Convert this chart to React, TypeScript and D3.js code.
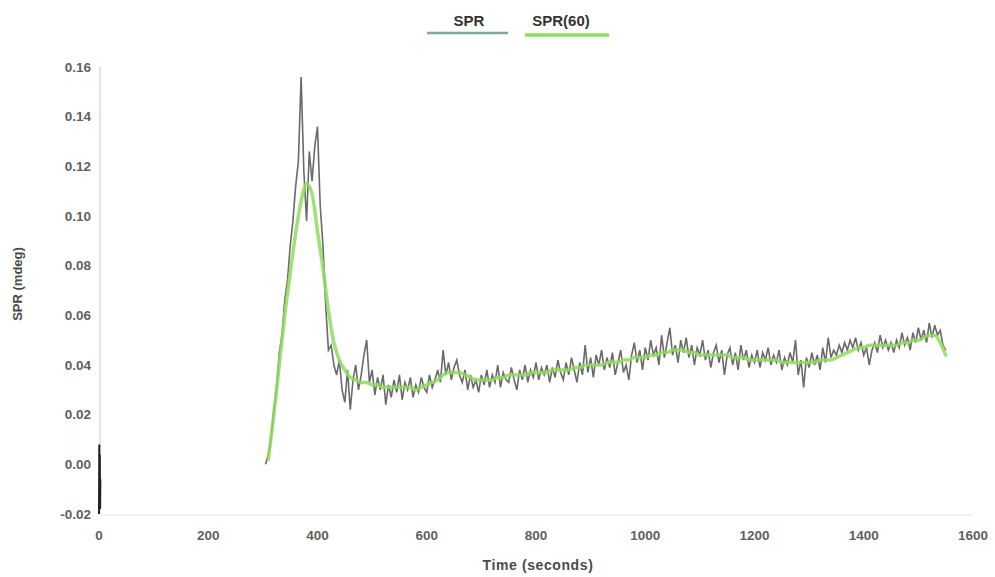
import React from "react";
import * as d3 from "d3";

const yTicks = [-0.02, 0, 0.02, 0.04, 0.06, 0.08, 0.1, 0.12, 0.14, 0.16];
const xTicks = [0, 200, 400, 600, 800, 1000, 1200, 1400, 1600];

// raw SPR: short burst at t=0, then samples every 5 s from 305 s
const rawInitialTimes = [0, 0.5, 1, 1.5, 2, 2.5];
const rawInitialValues = [-0.02, 0.008, -0.014, 0.004, -0.018, -0.006];

const rawStart = 305;
const rawStep = 5;
const rawValues = [
  0.000, 0.004, 0.010, 0.022, 0.030, 0.045, 0.052, 0.066, 0.074, 0.088,
  0.098, 0.112, 0.122, 0.156, 0.118, 0.098, 0.126, 0.114, 0.128, 0.136,
  0.104, 0.088, 0.064, 0.046, 0.048, 0.040, 0.036, 0.042, 0.030, 0.025,
  0.038, 0.022, 0.034, 0.040, 0.030, 0.036, 0.044, 0.050, 0.033, 0.038,
  0.028, 0.035, 0.030, 0.036, 0.024, 0.032, 0.027, 0.034, 0.029, 0.036,
  0.026, 0.033, 0.030, 0.035, 0.027, 0.032, 0.029, 0.035, 0.031, 0.029,
  0.036, 0.031, 0.034, 0.038, 0.033, 0.046, 0.036, 0.041, 0.034, 0.039,
  0.042, 0.036, 0.033, 0.038, 0.030, 0.036, 0.031, 0.034, 0.029, 0.036,
  0.032, 0.038, 0.031, 0.036, 0.033, 0.040, 0.031, 0.037, 0.034, 0.033,
  0.039, 0.034, 0.030, 0.038, 0.034, 0.040, 0.033, 0.038, 0.035, 0.041,
  0.034, 0.039, 0.036, 0.040, 0.033, 0.039, 0.035, 0.042, 0.037, 0.034,
  0.041, 0.036, 0.043, 0.038, 0.033, 0.041, 0.036, 0.048, 0.037, 0.043,
  0.035, 0.044, 0.040, 0.046, 0.038, 0.043, 0.039, 0.045, 0.036, 0.041,
  0.046, 0.037, 0.040, 0.034, 0.044, 0.049, 0.041, 0.046, 0.038, 0.047,
  0.042, 0.050, 0.044, 0.047, 0.040, 0.052, 0.043, 0.049, 0.055, 0.044,
  0.048, 0.041, 0.050, 0.045, 0.051, 0.043, 0.048, 0.040, 0.047, 0.044,
  0.050, 0.042, 0.046, 0.039, 0.045, 0.048, 0.041, 0.046, 0.036, 0.044,
  0.047, 0.040, 0.045, 0.038, 0.048, 0.042, 0.046, 0.039, 0.044, 0.041,
  0.046, 0.039, 0.045, 0.042, 0.047, 0.040, 0.044, 0.041, 0.046, 0.038,
  0.043, 0.040, 0.045, 0.041, 0.050, 0.036, 0.042, 0.031, 0.043, 0.039,
  0.045, 0.040, 0.044, 0.038, 0.047, 0.041, 0.051, 0.043, 0.046, 0.044,
  0.048, 0.045, 0.049, 0.046, 0.050, 0.047, 0.051, 0.046, 0.049, 0.044,
  0.047, 0.040, 0.046, 0.049, 0.045, 0.052, 0.047, 0.050, 0.046, 0.049,
  0.045, 0.050, 0.047, 0.053, 0.048, 0.051, 0.046, 0.053, 0.049, 0.055,
  0.050, 0.054, 0.049, 0.057, 0.051, 0.056, 0.052, 0.054, 0.048, 0.046,
];

// SPR(60) smoothed: every 10 s from 310 s
const smoothStart = 310;
const smoothStep = 10;
const smoothValues = [
  0.002, 0.020, 0.040, 0.060, 0.077, 0.093, 0.106, 0.113, 0.109, 0.094,
  0.079, 0.062, 0.049, 0.042, 0.038, 0.035, 0.034, 0.033, 0.033, 0.032,
  0.032, 0.031, 0.031, 0.031, 0.031, 0.031, 0.031, 0.030, 0.031, 0.032,
  0.033, 0.034, 0.036, 0.037, 0.037, 0.037, 0.036, 0.035, 0.034, 0.034,
  0.034, 0.034, 0.035, 0.035, 0.036, 0.036, 0.036, 0.036, 0.037, 0.037,
  0.037, 0.037, 0.038, 0.038, 0.038, 0.038, 0.039, 0.039, 0.040, 0.040,
  0.040, 0.040, 0.041, 0.041, 0.041, 0.042, 0.042, 0.043, 0.043, 0.043,
  0.044, 0.044, 0.045, 0.045, 0.046, 0.046, 0.046, 0.045, 0.045, 0.044,
  0.044, 0.044, 0.044, 0.044, 0.044, 0.043, 0.043, 0.043, 0.042, 0.042,
  0.042, 0.042, 0.042, 0.042, 0.041, 0.041, 0.041, 0.041, 0.041, 0.041,
  0.041, 0.042, 0.042, 0.042, 0.043, 0.044, 0.045, 0.046, 0.047, 0.047,
  0.048, 0.048, 0.048, 0.048, 0.048, 0.048, 0.049, 0.049, 0.050, 0.050,
  0.051, 0.052, 0.052, 0.049, 0.044,
];

const W = 995;
const H = 577;
const FONT = "'Liberation Sans', Arial, sans-serif";

export default function App() {
  const x = d3.scaleLinear().domain([0, 1600]).range([99, 973]);
  const y = d3.scaleLinear().domain([-0.02, 0.16]).range([514, 67]);

  const rawInit = rawInitialTimes.map((t, i) => [t, rawInitialValues[i]] as [number, number]);
  const raw = rawValues.map((v, i) => [rawStart + i * rawStep, v] as [number, number]);
  const smooth = smoothValues.map((v, i) => [smoothStart + i * smoothStep, v] as [number, number]);

  const line = d3
    .line<[number, number]>()
    .x((d) => x(d[0]))
    .y((d) => y(d[1]));
  const smoothLine = d3
    .line<[number, number]>()
    .x((d) => x(d[0]))
    .y((d) => y(d[1]))
    .curve(d3.curveMonotoneX);

  return (
    <svg
      width={W}
      height={H}
      style={{ position: "absolute", left: 0, top: 0, background: "#fff" }}
      fontFamily={FONT}
    >
      {/* axis lines */}
      <line x1={x(0) + 1} x2={x(0) + 1} y1={y(0.16)} y2={y(-0.02)} stroke="#e2e2e2" strokeWidth={2} />
      <line x1={x(0)} x2={x(1600)} y1={y(-0.02) + 1} y2={y(-0.02) + 1} stroke="#f0f0f0" strokeWidth={2} />

      {/* y tick labels */}
      {yTicks.map((t) => (
        <text
          key={"y" + t}
          x={91}
          y={y(t)}
          dy="0.35em"
          textAnchor="end"
          fontSize={13.5}
          fontWeight="bold"
          fill="#5f5f5f"
        >
          {t.toFixed(2)}
        </text>
      ))}

      {/* x tick labels */}
      {xTicks.map((t) => (
        <text
          key={"x" + t}
          x={x(t)}
          y={540}
          textAnchor="middle"
          fontSize={13.5}
          fontWeight="bold"
          fill="#5f5f5f"
        >
          {t}
        </text>
      ))}

      {/* axis titles */}
      <text x={538} y={570} textAnchor="middle" fontSize={14} fontWeight="bold" fill="#4a4a4a" letterSpacing={0.6}>
        Time (seconds)
      </text>
      <text
        transform="translate(22,284) rotate(-90)"
        textAnchor="middle"
        fontSize={13}
        fontWeight="bold"
        fill="#4a4a4a"
      >
        SPR (mdeg)
      </text>

      {/* series */}
      <path d={line(rawInit) || ""} fill="none" stroke="#222" strokeWidth={2} />
      <path d={line(raw) || ""} fill="none" stroke="#6a6a6a" strokeWidth={1.6} strokeLinejoin="miter" />
      <path
        d={smoothLine(smooth) || ""}
        fill="none"
        stroke="#8fdc5e"
        strokeOpacity={0.85}
        strokeWidth={3.5}
        strokeLinecap="round"
      />

      {/* legend */}
      <text x={469} y={26} textAnchor="middle" fontSize={15} fontWeight="bold" fill="#333">
        SPR
      </text>
      <line x1={427} x2={508} y1={33} y2={33} stroke="#7ea59e" strokeWidth={2.5} />
      <text x={561} y={26} textAnchor="middle" fontSize={15} fontWeight="bold" fill="#333">
        SPR(60)
      </text>
      <line x1={525} x2={609} y1={35} y2={35} stroke="#8fdc5e" strokeWidth={3.5} />
    </svg>
  );
}
